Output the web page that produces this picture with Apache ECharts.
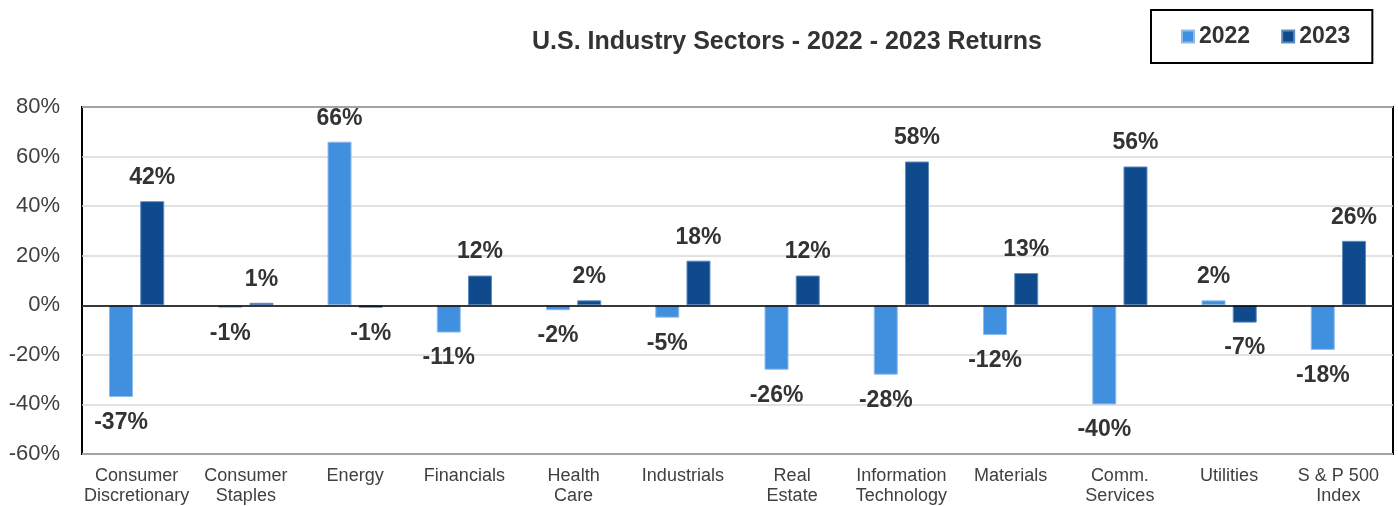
<!DOCTYPE html>
<html>
<head>
<meta charset="utf-8">
<script src="https://cdn.jsdelivr.net/npm/echarts@6/dist/echarts.min.js"></script>
<style>
  html, body { margin: 0; padding: 0; background: #fff; }
  #chart { width: 1398px; height: 506px; }
</style>
</head>
<body>
<div id="chart"></div>
<script>
// Sector names (two-line axis labels)
const sectors = [
  'Consumer\nDiscretionary', 'Consumer\nStaples', 'Energy', 'Financials',
  'Health\nCare', 'Industrials', 'Real\nEstate', 'Information\nTechnology',
  'Materials', 'Comm.\nServices', 'Utilities', 'S & P 500\nIndex'
];
// Annual total returns, percent
const returns2022 = [-37, -1, 66, -11, -2, -5, -26, -28, -12, -40, 2, -18];
const returns2023 = [42, 1, -1, 12, 2, 18, 12, 58, 13, 56, -7, 26];
const seriesNames = ['2022', '2023'];
// Value axis range, percent
const yMin = -60, yMax = 80, yStep = 20;

const colors = ['#4190DF', '#0F4A8C'];
const borderColors = ['#8DBCEB', '#5F8CC0'];
const FONT = 'Liberation Sans, Arial, sans-serif';

function withLabels(values) {
  return values.map(v => ({
    value: v,
    label: v < 0
      ? { position: 'bottom', distance: 14 }
      : { position: 'top', distance: 12 }
  }));
}

function makeSeries(idx, values) {
  return {
    name: seriesNames[idx],
    type: 'bar',
    barWidth: 24,
    barGap: '30%',
    data: withLabels(values),
    itemStyle: { color: colors[idx], borderColor: borderColors[idx], borderWidth: 1 },
    label: {
      show: true,
      formatter: p => p.value + '%',
      fontFamily: FONT,
      fontWeight: 'bold',
      fontSize: 23,
      color: '#333333'
    },
    z: 2
  };
}

const s1 = makeSeries(0, returns2022);
const s2 = makeSeries(1, returns2023);
// zero reference line across the plot
s2.markLine = {
  silent: true,
  symbol: 'none',
  label: { show: false },
  lineStyle: { color: '#000', width: 1.5, type: 'solid' },
  data: [{ yAxis: 0 }],
  z: 5
};

const chart = echarts.init(document.getElementById('chart'));
chart.setOption({
  animation: false,
  backgroundColor: '#ffffff',
  title: {
    text: 'U.S. Industry Sectors - 2022 - 2023 Returns',
    left: 782,
    textAlign: 'center',
    top: 25,
    textStyle: {
      fontFamily: FONT,
      fontWeight: 'bold',
      fontSize: 25,
      color: '#333333'
    }
  },
  legend: {
    data: seriesNames,
    left: 1151,
    top: 10,
    padding: [15, 22, 15, 30],
    borderColor: '#000',
    borderWidth: 2,
    itemGap: 31,
    itemWidth: 12,
    itemHeight: 12,
    icon: 'rect',
    textStyle: {
      fontFamily: FONT,
      fontWeight: 'bold',
      fontSize: 23,
      color: '#333333'
    }
  },
  grid: {
    left: 82, right: 5, top: 107, bottom: 52,
    show: true,
    borderColor: '#000',
    borderWidth: 2,
    containLabel: false
  },
  xAxis: {
    type: 'category',
    data: sectors,
    axisLine: { show: false, onZero: false },
    axisTick: { show: false },
    axisLabel: {
      interval: 0,
      margin: 12,
      fontFamily: FONT,
      fontSize: 18,
      lineHeight: 20,
      color: '#404040'
    }
  },
  yAxis: {
    type: 'value',
    min: yMin,
    max: yMax,
    interval: yStep,
    axisLine: { show: false },
    axisTick: { show: false },
    splitLine: { lineStyle: { color: '#D9D9D9', width: 1.5 } },
    axisLabel: {
      formatter: '{value}%',
      margin: 22,
      fontFamily: FONT,
      fontSize: 22,
      color: '#404040'
    }
  },
  series: [s1, s2]
});
</script>
</body>
</html>
